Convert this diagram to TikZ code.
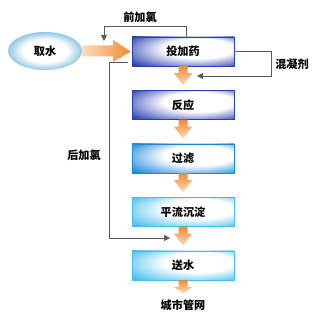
\documentclass[tikz,border=0pt]{standalone}
\usepackage{fontspec}
\usepackage{xcolor}
\newfontfamily\cjk{Noto Sans CJK SC}
\usepackage{tikz}
\usetikzlibrary{arrows.meta,calc,positioning,shapes.geometric}

\definecolor{boxdark}{HTML}{2A3FAE}
\definecolor{boxmid}{HTML}{1C88D8}
\definecolor{boxlight}{HTML}{45BEEE}
\definecolor{intakeblue}{HTML}{1E8CC6}
\definecolor{flowdark}{HTML}{F08A30}
\definecolor{flowlight}{HTML}{FCDDC0}
\definecolor{linegray}{HTML}{5A5A5A}

\pgfdeclareradialshading{glossdark}{\pgfpoint{12bp}{8bp}}{color(0bp)=(white); color(17bp)=(white); color(37bp)=(boxdark); color(50bp)=(boxdark)}
\pgfdeclareradialshading{glossmid}{\pgfpoint{12bp}{8bp}}{color(0bp)=(white); color(17bp)=(white); color(37bp)=(boxmid); color(50bp)=(boxmid)}
\pgfdeclareradialshading{glosslight}{\pgfpoint{12bp}{8bp}}{color(0bp)=(white); color(17bp)=(white); color(37bp)=(boxlight); color(50bp)=(boxlight)}
\pgfdeclareradialshading{intakeglow}{\pgfpoint{0bp}{0bp}}{color(0bp)=(white); color(15bp)=(white); color(36bp)=(intakeblue); color(50bp)=(intakeblue)}

% orange arrow between two stages
\newcommand\downflow[2]{%
  \shade[top color=flowdark, bottom color=flowlight]
    ($(#1.south)+(-4.5,0)$) -- ($(#1.south)+(4.5,0)$) -- ($(#1.south)+(4.5,7)$)
    -- ($(#1.south)+(9,7)$) -- ($(#2.north)+(0,-5)$) -- ($(#1.south)+(-9,7)$)
    -- ($(#1.south)+(-4.5,7)$) -- cycle;}

\begin{document}
\begin{tikzpicture}[x=0.03cm,y=-0.03cm,font=\cjk\bfseries\fontsize{9.5}{11}\selectfont,
  >={Triangle[length=5pt,width=5pt]},
  stage/.style={rectangle,minimum width=3.06cm,minimum height=0.87cm,inner sep=0pt},
  feed/.style={draw=linegray,line width=0.7pt,->}]
  \useasboundingbox (0,0) rectangle (320,315);

  \node[ellipse,shading=intakeglow,minimum width=2.22cm,minimum height=1.14cm,inner sep=0pt] (intake) at (45,51) {取水};

  \node[stage,shading=glossdark,draw=boxdark] (dose) at (183,51.5) {投加药};
  \node[stage,shading=glossdark,draw=boxdark,below=0.72cm of dose] (react) {反应};
  \node[stage,shading=glossmid,draw=boxmid,below=0.72cm of react] (filter) {过滤};
  \node[stage,shading=glosslight,draw=boxlight,below=0.72cm of filter] (settle) {平流沉淀};
  \node[stage,shading=glosslight,draw=boxlight,below=0.72cm of settle] (supply) {送水};
  \node[inner sep=1pt] (city) at (183,305) {城市管网};

  \shade[left color=flowlight, right color=flowdark]
    ($(intake.east)+(0,-5.5)$) -- ($(intake.east)+(31,-5.5)$) -- ($(intake.east)+(31,-11)$)
    -- ($(dose.west)+(-1,0)$) -- ($(intake.east)+(31,11)$) -- ($(intake.east)+(31,5.5)$)
    -- ($(intake.east)+(0,5.5)$) -- cycle;
  \downflow{dose}{react}
  \downflow{react}{filter}
  \downflow{filter}{settle}
  \downflow{settle}{supply}
  \downflow{supply}{city}

  % chlorine and coagulant feeds
  \coordinate (pretip) at (104,41);
  \coordinate (coagtip) at (197,76);
  \coordinate (posttip) at (170,238);
  \draw[feed] ($(dose.north)+(3,0)$) -- ++(0,-10) -| (pretip);
  \draw[feed] (dose.east) -- ++(37,0) |- (coagtip);
  \draw[feed] ($(dose.south west)+(-4,-4)$) -- ++(-18,0) |- (posttip);

  \node (prelabel) at (140,17) {前加氯};
  \node (coaglabel) at (292,64) {混凝剂};
  \node (postlabel) at (84,155) {后加氯};
\end{tikzpicture}
\end{document}
